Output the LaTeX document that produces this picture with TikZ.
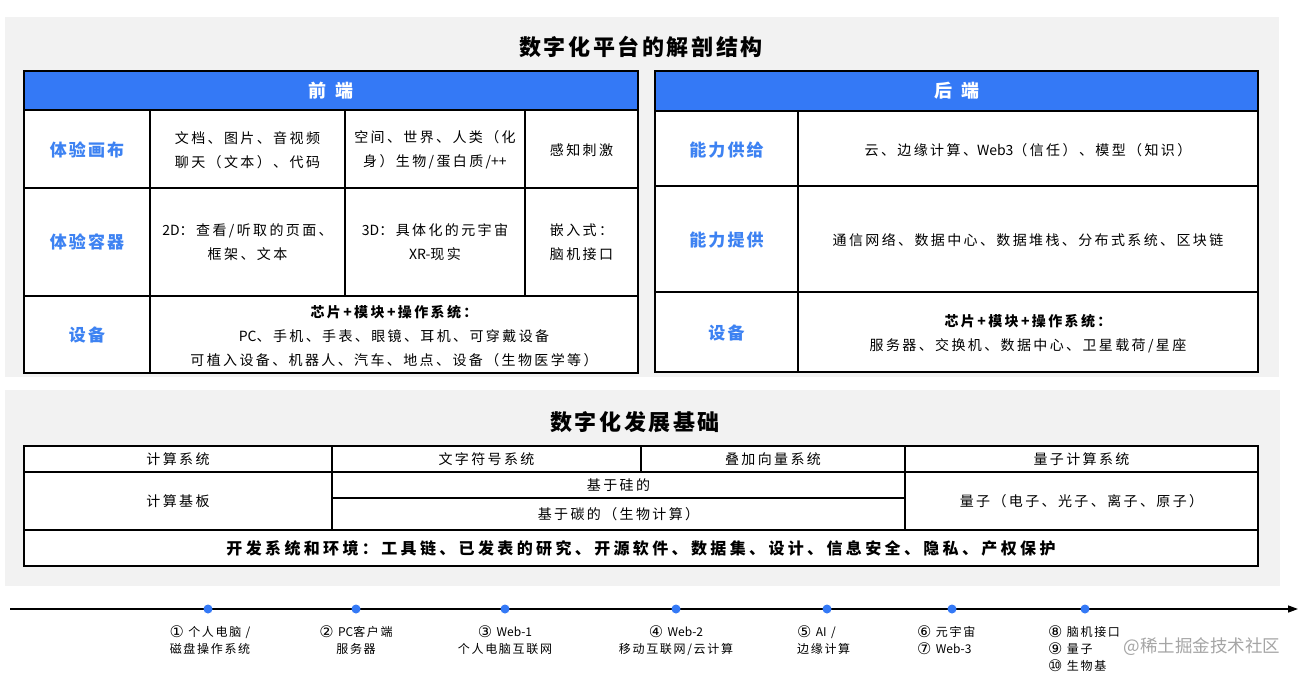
\documentclass[tikz,border=0pt]{standalone}
\usepackage{fontspec}
\setmainfont{Noto Sans CJK SC}
\newfontfamily\circfont{DejaVu Sans}
\usetikzlibrary{arrows.meta}
\definecolor{bgray}{HTML}{F2F2F2}
\definecolor{hblue}{HTML}{3479F6}
\definecolor{tblue}{HTML}{3D82F2}
\definecolor{wmgray}{RGB}{165,165,165}
\newcommand\fbody{\fontsize{14}{24}\selectfont\addfontfeature{LetterSpace=17}}
\newcommand\fbodyb{\fontsize{14}{24}\selectfont\bfseries\addfontfeature{LetterSpace=17}}
\newcommand\flbl{\fontsize{17}{20}\selectfont\bfseries\addfontfeature{LetterSpace=12}}
\newcommand\fhdr{\fontsize{18}{20}\selectfont\bfseries}
\newcommand\fttl{\fontsize{22}{26}\selectfont\bfseries\addfontfeature{LetterSpace=12}}
\newcommand\fdev{\fontsize{16}{20}\selectfont\bfseries\addfontfeature{LetterSpace=21}}
\newcommand\ftl{\fontsize{12}{17}\selectfont\addfontfeature{LetterSpace=14}}
\newcommand\nls[1]{{\addfontfeature{LetterSpace=0}#1}}
\newcommand\cn[1]{\raisebox{-1pt}{\circfont\fontsize{16}{17}\selectfont #1}}
\begin{document}
\begin{tikzpicture}[x=1pt,y=-1pt,
  grid/.style={line width=1.6pt, black},
  txt/.style={font=\fbody, align=center, inner sep=0pt},
  lbl/.style={font=\flbl, text=tblue, inner sep=0pt},
  hdr/.style={font=\fhdr, text=white, inner sep=0pt},
  ttl/.style={font=\fttl, inner sep=0pt},
  dot/.style={circle, fill=hblue, minimum size=9pt, inner sep=0pt},
  tlc/.style={font=\ftl, align=center, inner sep=0pt},
  tll/.style={font=\ftl, align=left, anchor=west, inner sep=0pt},
  wm/.style={font=\fontsize{17.5}{20}\selectfont, text=wmgray, inner sep=0pt}]
\useasboundingbox (0,0) rectangle (1303,677);
\fill[white] (0,0) rectangle (1303,677);
\fill[bgray] (5,17) rectangle (1279,377);
\fill[bgray] (5,390) rectangle (1280,586);

% ---------- titles
\node[ttl] (t1) at (641,47) {数字化平台的解剖结构};
\node[ttl] (t2) at (635,422) {数字化发展基础};

% ---------- front table
\fill[hblue] (24,71) rectangle (638,110);
\fill[white] (24,110) rectangle (638,373);
\draw[grid] (24,110) -- (638,110) (24,188) -- (638,188) (24,296) -- (638,296);
\draw[grid] (150,110) -- (150,373) (345,110) -- (345,296) (525,110) -- (525,296);
\draw[grid] (24,71) rectangle (638,373);

\node[hdr] (fh) at (331,91) {前\hspace{9pt}端};
\node[lbl] (f1) at (87,150) {体验画布};
\node[lbl] (f2) at (87,242) {体验容器};
\node[lbl] (f3) at (87,335) {设备};
\node[txt] (f12) at (247.5,150) {文档、图片、音视频\\聊天（文本）、代码};
\node[txt] (f13) at (435,150) {空间、世界、人类（化\\身）生物/蛋白质/\nls{++}};
\node[txt] (f14) at (581.5,150) {感知刺激};
\node[txt] (f22) at (247.5,242) {\nls{2D}：查看/听取的页面、\\框架、文本};
\node[txt] (f23) at (435,242) {\nls{3D}：具体化的元宇宙\\\nls{XR-}现实};
\node[txt] (f24) at (581.5,242) {嵌入式：\\脑机接口};
\node[txt] (f32) at (394,336) {{\fbodyb 芯片+模块+操作系统：}\\\nls{PC}、手机、手表、眼镜、耳机、可穿戴设备\\可植入设备、机器人、汽车、地点、设备（生物医学等）};

% ---------- back table
\fill[hblue] (655,71) rectangle (1258,111);
\fill[white] (655,111) rectangle (1258,372);
\draw[grid] (655,111) -- (1258,111) (655,186) -- (1258,186) (655,292) -- (1258,292);
\draw[grid] (798,111) -- (798,372);
\draw[grid] (655,71) rectangle (1258,372);

\node[hdr] (bh) at (956.5,91) {后\hspace{9pt}端};
\node[lbl] (b1) at (726.5,150) {能力供给};
\node[lbl] (b2) at (726.5,240) {能力提供};
\node[lbl] (b3) at (726.5,333) {设备};
\node[txt] (b12) at (1028,150) {云、边缘计算、\nls{Web3}（信任）、模型（知识）};
\node[txt] (b22) at (1028,240) {通信网络、数据中心、数据堆栈、分布式系统、区块链};
\node[txt] (b32) at (1028,333.5) {{\fbodyb 芯片+模块+操作系统：}\\服务器、交换机、数据中心、卫星载荷/星座};

% ---------- foundation table
\fill[white] (24,446) rectangle (1258,566);
\draw[grid] (24,472) -- (1258,472) (24,530) -- (1258,530) (332,498) -- (905,498);
\draw[grid] (332,446) -- (332,530) (641,446) -- (641,472) (905,446) -- (905,530);
\draw[grid] (24,446) rectangle (1258,566);

\node[txt] (g11) at (178,459) {计算系统};
\node[txt] (g12) at (486.5,459) {文字符号系统};
\node[txt] (g13) at (773,459) {叠加向量系统};
\node[txt] (g14) at (1081.5,459) {量子计算系统};
\node[txt] (g21) at (178,501) {计算基板};
\node[txt] (g22) at (618.5,485) {基于硅的};
\node[txt] (g23) at (618.5,514) {基于碳的（生物计算）};
\node[txt] (g24) at (1081.5,501) {量子（电子、光子、离子、原子）};
\node[font=\fdev, inner sep=0pt] (g3) at (641,548) {开发系统和环境：工具链、已发表的研究、开源软件、数据集、设计、信息安全、隐私、产权保护};

% ---------- timeline
\coordinate (ts) at (10,609);
\coordinate (te) at (1298,609);
\draw[line width=1.5pt, -{Triangle[length=10pt,width=7pt]}] (ts) -- (te);
\node[dot] (d1) at (208,609) {};
\node[dot] (d2) at (356,609) {};
\node[dot] (d3) at (505,609) {};
\node[dot] (d4) at (676,609) {};
\node[dot] (d5) at (827,609) {};
\node[dot] (d6) at (952,609) {};
\node[dot] (d7) at (1085,609) {};

\node[tlc] (l1) at (210,640.5) {\cn{①} 个人电脑 /\\磁盘操作系统};
\node[tlc] (l2) at (356,640.5) {\cn{②} \nls{PC}客户端\\服务器};
\node[tlc] (l3) at (505,640.5) {\cn{③} \nls{Web-1}\\个人电脑互联网};
\node[tlc] (l4) at (676,640.5) {\cn{④} \nls{Web-2}\\移动互联网/云计算};
\node[tll] (l5) at (797,640.5) {\cn{⑤} \nls{AI} /\\边缘计算};
\node[tll] (l6) at (917,640.5) {\cn{⑥} 元宇宙\\\cn{⑦} \nls{Web-3}};
\node[tll] (l7) at (1048,649) {\cn{⑧} 脑机接口\\\cn{⑨} 量子\\\cn{⑩} 生物基};

\node[wm] (wm) at (1202,647) {@稀土掘金技术社区};
\end{tikzpicture}
\end{document}
